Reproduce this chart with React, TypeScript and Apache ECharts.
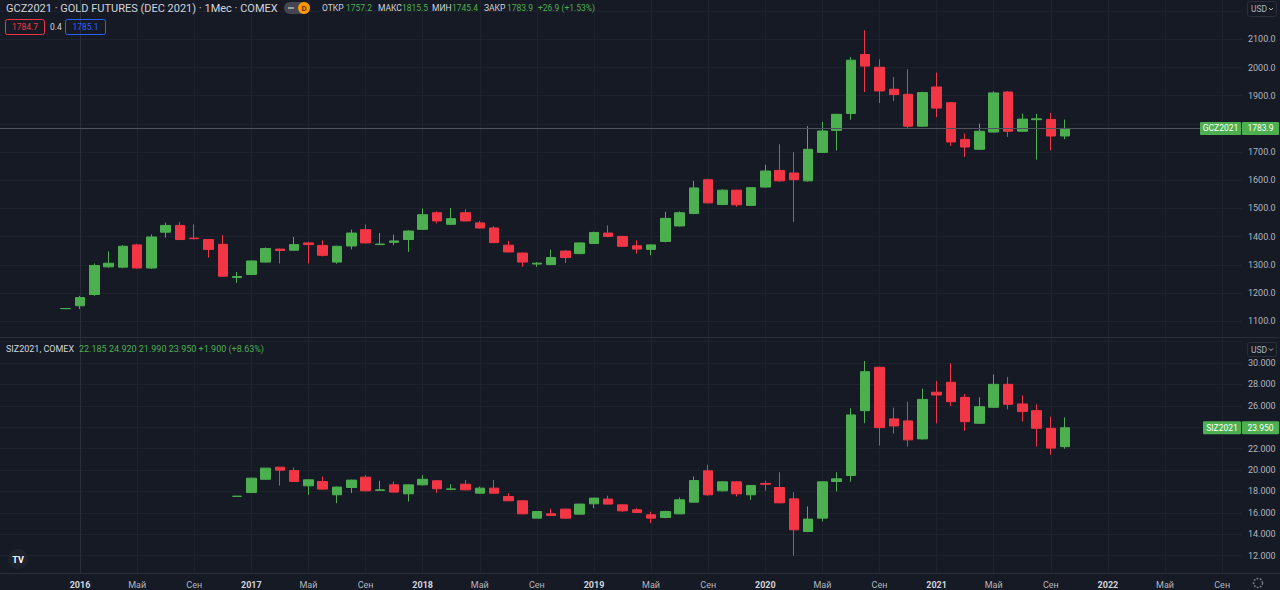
import React, { useEffect, useRef } from 'react';
import * as echarts from 'echarts';

// ---------- data ----------
const monthNames = ['Янв', 'Фев', 'Мар', 'Апр', 'Май', 'Июн', 'Июл', 'Авг', 'Сен', 'Окт', 'Ноя', 'Дек'];
const firstYear = 2016; // month index 0 = Jan 2016
const tickMonths = [0, 4, 8, 12, 16, 20, 24, 28, 32, 36, 40, 44, 48, 52, 56, 60, 64, 68, 72, 76, 80];

// Gold futures (DEC 2021), monthly, from Dec 2015: [open, high, low, close]
const goldStart = -1;
const goldOHLC: number[][] = [
  [1145, 1146, 1144, 1145],
  [1155, 1190, 1143, 1184], [1195, 1305, 1190, 1298], [1293, 1348, 1290, 1306], [1292, 1370, 1288, 1366],
  [1371, 1375, 1287, 1289], [1289, 1408, 1286, 1399], [1416, 1450, 1397, 1440], [1440, 1452, 1388, 1390],
  [1395, 1444, 1390, 1393], [1390, 1392, 1326, 1355], [1373, 1405, 1258, 1260], [1255, 1275, 1236, 1259],
  [1266, 1316, 1264, 1314], [1310, 1362, 1308, 1358], [1356, 1358, 1305, 1351], [1352, 1399, 1350, 1372],
  [1378, 1380, 1305, 1372], [1369, 1387, 1330, 1334], [1310, 1368, 1304, 1366], [1367, 1425, 1355, 1413],
  [1425, 1443, 1376, 1378], [1372, 1413, 1370, 1374], [1380, 1407, 1370, 1385], [1390, 1423, 1346, 1420],
  [1426, 1500, 1424, 1478], [1485, 1490, 1447, 1456], [1444, 1502, 1442, 1464], [1485, 1497, 1454, 1456],
  [1449, 1456, 1429, 1431], [1431, 1437, 1377, 1379], [1370, 1385, 1344, 1346], [1342, 1344, 1293, 1310],
  [1303, 1310, 1293, 1306], [1301, 1354, 1300, 1326], [1349, 1352, 1307, 1326], [1340, 1380, 1338, 1378],
  [1376, 1418, 1374, 1415], [1413, 1440, 1398, 1401], [1401, 1403, 1364, 1366], [1368, 1387, 1340, 1356],
  [1355, 1373, 1334, 1371], [1383, 1488, 1380, 1465], [1438, 1490, 1436, 1485], [1482, 1598, 1480, 1573],
  [1602, 1605, 1518, 1520], [1514, 1568, 1512, 1565], [1565, 1567, 1506, 1513], [1511, 1576, 1509, 1574],
  [1576, 1655, 1574, 1633], [1635, 1728, 1595, 1598], [1626, 1700, 1452, 1602], [1598, 1792, 1595, 1710],
  [1699, 1807, 1697, 1775], [1777, 1836, 1706, 1834], [1837, 2037, 1815, 2026], [2046, 2132, 1913, 2005],
  [2001, 2029, 1874, 1917], [1923, 1966, 1881, 1904], [1905, 1994, 1783, 1792], [1792, 1914, 1790, 1911],
  [1931, 1982, 1824, 1856], [1875, 1878, 1722, 1736], [1745, 1766, 1683, 1718], [1710, 1801, 1708, 1774],
  [1771, 1916, 1769, 1910], [1913, 1917, 1754, 1774], [1774, 1836, 1772, 1817], [1815, 1836, 1673, 1818],
  [1816, 1839, 1706, 1757], [1757.2, 1815.5, 1745.4, 1783.9],
];

// Silver futures (DEC 2021), monthly, from Dec 2016: [open, high, low, close]
const silverStart = 11;
const silverOHLC: number[][] = [
  [17.55, 17.56, 17.54, 17.55],
  [17.9, 19.3, 17.85, 19.24], [19.14, 20.2, 19.1, 20.18], [20.27, 20.3, 18.55, 19.99], [19.95, 20.24, 18.9, 18.93],
  [18.53, 19.12, 17.69, 19.09], [18.93, 19.4, 18.2, 18.22], [17.69, 18.45, 16.91, 18.41], [18.37, 19.1, 17.85, 19.06],
  [19.34, 19.53, 18.0, 18.06], [18.1, 19.0, 18.05, 18.15], [18.62, 18.93, 17.9, 17.94], [17.78, 18.65, 17.06, 18.62],
  [18.62, 19.53, 18.55, 19.14], [19.0, 19.05, 17.85, 18.25], [18.2, 18.68, 18.12, 18.24], [18.68, 19.08, 18.1, 18.15],
  [17.84, 18.46, 17.8, 18.31], [18.31, 19.08, 17.8, 17.84], [17.53, 17.85, 17.1, 17.13], [17.13, 17.15, 15.88, 15.91],
  [15.51, 16.15, 15.5, 16.13], [15.91, 16.38, 15.72, 15.76], [16.35, 16.4, 15.45, 15.51], [15.88, 16.85, 15.85, 16.82],
  [16.85, 17.4, 16.44, 17.38], [17.29, 17.6, 16.8, 16.82], [16.75, 16.8, 16.1, 16.19], [16.29, 16.44, 16.0, 16.04],
  [15.82, 16.1, 15.04, 15.51], [15.57, 16.2, 15.5, 16.13], [15.91, 17.44, 15.88, 17.22], [17.0, 19.4, 16.95, 19.02],
  [19.93, 20.49, 17.6, 17.69], [18.06, 18.95, 18.0, 18.9], [18.9, 18.95, 17.53, 17.78], [17.69, 18.6, 17.22, 18.56],
  [18.75, 19.0, 18.06, 18.68], [18.37, 19.8, 16.9, 16.94], [17.31, 17.93, 12.0, 14.42], [14.26, 16.6, 14.2, 15.42],
  [15.51, 18.95, 15.2, 18.9], [18.93, 19.8, 18.0, 19.18], [19.49, 25.77, 18.9, 25.15], [25.55, 30.19, 24.37, 29.19],
  [29.6, 29.65, 22.29, 23.96], [24.78, 25.83, 23.4, 24.12], [24.59, 26.39, 22.2, 22.82], [22.91, 27.6, 22.85, 26.6],
  [27.27, 28.32, 24.37, 27.01], [28.2, 29.97, 26.0, 26.39], [26.79, 27.1, 23.66, 24.52], [24.37, 26.79, 24.3, 25.92],
  [25.86, 28.94, 25.8, 28.01], [28.01, 28.7, 25.67, 26.14], [26.17, 26.97, 24.53, 25.46], [25.55, 26.14, 22.19, 23.9],
  [23.9, 24.99, 21.43, 22.05], [22.185, 24.92, 21.99, 23.95],
];

// grid-line levels and the levels that carry a visible label
const goldTicks = [1100, 1200, 1300, 1400, 1500, 1600, 1700, 1800, 1900, 2000, 2100, 2200];
const goldLabels = [1100, 1200, 1300, 1400, 1500, 1600, 1700, 1900, 2000, 2100];
const silverTicks = [12, 14, 16, 18, 20, 22, 24, 26, 28, 30, 32];
const silverLabels = [12, 14, 16, 18, 20, 22, 26, 28, 30];

const goldSymbol = 'GCZ2021';
const goldTitle = 'GCZ2021 · GOLD FUTURES (DEC 2021) · 1Мес · COMEX';
const goldChange = '+26.9 (+1.53%)';
const goldBid = '1784.7';
const goldSpread = '0.4';
const goldAsk = '1785.1';
const silverSymbol = 'SIZ2021';
const silverTitle = 'SIZ2021, COMEX';
const silverChange = '+1.900 (+8.63%)';

// ---------- styling ----------
const BG = '#161A25';
const GRID = '#1E222D';
const BORDER = '#2A2E39';
const TEXT = '#B2B5BE';
const TITLE = '#D1D4DC';
const UP = '#4CAF50';
const DOWN = '#F23645';
const FONT = 'Roboto, "Noto Sans", sans-serif';

const PX_PER_MONTH = 14.277;
const X_ORIGIN = 80; // pixel of month 0
const PLOT_RIGHT = 1242;
const X_MIN = -X_ORIGIN / PX_PER_MONTH;
const X_MAX = (PLOT_RIGHT - X_ORIGIN) / PX_PER_MONTH;

const toCandles = (start: number, rows: number[][]) =>
  rows.map((r, i) => [start + i, r[0], r[3], r[2], r[1]]);

const monthLabel = (v: number) => {
  const m = Math.round(v);
  const mi = ((m % 12) + 12) % 12;
  if (mi === 0) return `{y|${firstYear + Math.floor(m / 12)}}`;
  return monthNames[mi];
};

const candleStyle = {
  color: UP,
  color0: DOWN,
  borderColor: UP,
  borderColor0: DOWN,
  borderWidth: 1,
};

const yAxisBase = (gridIndex: number, min: number, max: number, ticks: number[], labels: number[], digits: number) => ({
  type: 'value',
  gridIndex,
  position: 'right',
  min,
  max,
  axisLine: { show: true, lineStyle: { color: BORDER } },
  axisTick: { show: false, customValues: ticks },
  axisLabel: {
    customValues: labels,
    formatter: (v: number) => v.toFixed(digits),
    color: TEXT,
    fontSize: 9,
    fontFamily: FONT,
    margin: 6,
  },
  splitLine: { show: true, lineStyle: { color: GRID, width: 1 } },
});

const xAxisBase = (gridIndex: number, showLabels: boolean) => ({
  type: 'value',
  gridIndex,
  min: X_MIN,
  max: X_MAX,
  axisLine: { show: false },
  axisTick: { show: false, customValues: tickMonths },
  axisLabel: {
    show: showLabels,
    customValues: tickMonths,
    formatter: monthLabel,
    color: TEXT,
    fontSize: 9,
    fontFamily: FONT,
    margin: 7,
    rich: { y: { fontWeight: 'bold', color: TITLE, fontSize: 9, fontFamily: FONT } },
  },
  splitLine: { show: true, lineStyle: { color: GRID, width: 1 } },
});

const option: any = {
  animation: false,
  backgroundColor: BG,
  textStyle: { fontFamily: FONT },
  grid: [
    { left: 0, right: 1280 - PLOT_RIGHT, top: 0, height: 337 },
    { left: 0, right: 1280 - PLOT_RIGHT, top: 338, height: 235 },
  ],
  xAxis: [xAxisBase(0, false), xAxisBase(1, true)],
  yAxis: [
    yAxisBase(0, 1044.3, 2239.4, goldTicks, goldLabels, 1),
    yAxisBase(1, 10.385, 32.335, silverTicks, silverLabels, 3),
  ],
  series: [
    {
      type: 'candlestick',
      name: goldSymbol,
      xAxisIndex: 0,
      yAxisIndex: 0,
      barWidth: 10,
      itemStyle: candleStyle,
      data: toCandles(goldStart, goldOHLC),
      markLine: {
        silent: true,
        symbol: ['none', 'none'],
        label: { show: false },
        lineStyle: { color: '#50535E', type: 'solid', width: 1 },
        data: [{ yAxis: goldOHLC[goldOHLC.length - 1][3] }],
      },
    },
    {
      type: 'candlestick',
      name: silverSymbol,
      xAxisIndex: 1,
      yAxisIndex: 1,
      barWidth: 10,
      itemStyle: candleStyle,
      data: toCandles(silverStart, silverOHLC),
    },
  ],
};

const txt = (x: number, y: number, text: string, fill: string, size: number, extra: any = {}) => ({
  type: 'text',
  x,
  y,
  z: 100,
  silent: true,
  style: {
    text,
    fill,
    fontSize: size,
    fontFamily: FONT,
    align: 'left',
    verticalAlign: 'middle',
    ...extra,
  },
});

const box = (x: number, y: number, w: number, h: number, fill: string, stroke?: string, r = 2) => ({
  type: 'rect',
  z: 99,
  silent: true,
  shape: { x, y, width: w, height: h, r },
  style: stroke ? { fill: 'none', stroke, lineWidth: 1 } : { fill },
});

export default function App() {
  const ref = useRef<HTMLDivElement>(null);
  useEffect(() => {
    const el = ref.current!;
    const chart = echarts.init(el, null, { renderer: 'svg' });
    chart.setOption(option);

    const gLast = goldOHLC[goldOHLC.length - 1];
    const sLast = silverOHLC[silverOHLC.length - 1];
    const gy = (chart.convertToPixel({ seriesIndex: 0 }, [goldStart + goldOHLC.length - 1, gLast[3]]) as number[])[1];
    const sy = (chart.convertToPixel({ seriesIndex: 1 }, [silverStart + silverOHLC.length - 1, sLast[3]]) as number[])[1];

    const ohlcLabels = ['ОТКР', 'МАКС', 'МИН', 'ЗАКР'];
    const ohlcVals = [gLast[0], gLast[1], gLast[2], gLast[3]].map((v) => v.toFixed(1));
    const ohlcX = [322, 378, 432, 484];
    const ohlcValX = [346, 402, 452, 507];
    const silverValues = [sLast[0], sLast[1], sLast[2], sLast[3]].map((v) => v.toFixed(3)).join(' ') + ' ' + silverChange;

    const elements: any[] = [
      // pane separator and bottom axis line
      { type: 'line', z: 90, silent: true, shape: { x1: 0, y1: 337.5, x2: 1280, y2: 337.5 }, style: { stroke: BORDER, lineWidth: 1 } },
      { type: 'line', z: 90, silent: true, shape: { x1: 0, y1: 573.5, x2: 1280, y2: 573.5 }, style: { stroke: BORDER, lineWidth: 1 } },
      // title line
      txt(6, 8, goldTitle, TITLE, 11),
      { type: 'rect', z: 99, silent: true, shape: { x: 284, y: 2, width: 26, height: 12, r: 6 }, style: { fill: '#434651' } },
      { type: 'line', z: 100, silent: true, shape: { x1: 288, y1: 8, x2: 294, y2: 8 }, style: { stroke: '#D1D4DC', lineWidth: 1.2 } },
      { type: 'circle', z: 100, silent: true, shape: { cx: 304, cy: 8, r: 6 }, style: { fill: '#FF9800' } },
      txt(304, 8.5, 'D', '#5A3A00', 8, { align: 'center', fontWeight: 'bold' }),
      ...ohlcLabels.map((t, i) => txt(ohlcX[i], 8, t, TITLE, 8.5)),
      ...ohlcVals.map((t, i) => txt(ohlcValX[i], 8, t, UP, 8.5)),
      txt(538, 8, goldChange, UP, 8.5),
      // bid / ask
      box(5.5, 19.5, 39, 15, 'none', DOWN),
      txt(25, 27, goldBid, DOWN, 8.5, { align: 'center' }),
      txt(50, 27, goldSpread, TITLE, 8.5),
      box(65.5, 19.5, 40, 15, 'none', '#2962FF'),
      txt(85.5, 27, goldAsk, '#2962FF', 8.5, { align: 'center' }),
      // silver header
      txt(6, 349, silverTitle, TITLE, 9),
      txt(79, 349, silverValues, UP, 9),
      // USD buttons
      box(1247.5, 1.5, 29, 15, 'none', BORDER),
      txt(1251, 9, 'USD', TEXT, 8.5),
      { type: 'polyline', z: 100, silent: true, shape: { points: [[1269, 8], [1271, 10], [1273, 8]] }, style: { stroke: TEXT, fill: 'none', lineWidth: 1 } },
      box(1247.5, 342.5, 29, 14, 'none', BORDER),
      txt(1251, 349.5, 'USD', TEXT, 8.5),
      { type: 'polyline', z: 100, silent: true, shape: { points: [[1269, 348.5], [1271, 350.5], [1273, 348.5]] }, style: { stroke: TEXT, fill: 'none', lineWidth: 1 } },
      // last price boxes
      box(1200, gy - 6.5, 41, 13, UP, undefined, 1),
      txt(1220.5, gy, goldSymbol, '#FFFFFF', 8.5, { align: 'center' }),
      box(1242, gy - 6.5, 37, 13, UP, undefined, 1),
      txt(1260.5, gy, gLast[3].toFixed(1), '#FFFFFF', 8.5, { align: 'center' }),
      box(1203, sy - 6.5, 38, 13, UP, undefined, 1),
      txt(1222, sy, silverSymbol, '#FFFFFF', 8.5, { align: 'center' }),
      box(1242, sy - 6.5, 37, 13, UP, undefined, 1),
      txt(1260.5, sy, sLast[3].toFixed(3), '#FFFFFF', 8.5, { align: 'center' }),
      // TradingView logo
      { type: 'circle', z: 99, silent: true, shape: { cx: 18, cy: 559, r: 10 }, style: { fill: '#1E222D' } },
      txt(18, 559.5, 'TV', '#FFFFFF', 9, { align: 'center', fontWeight: 'bold' }),
      // settings gear
      { type: 'circle', z: 99, silent: true, shape: { cx: 1258, cy: 583, r: 4.5 }, style: { fill: 'none', stroke: '#787B86', lineWidth: 1.6, lineDash: [1.8, 1.4] } },
    ];

    chart.setOption({ graphic: { elements } });
    return () => chart.dispose();
  }, []);

  return <div ref={ref} style={{ position: 'fixed', left: 0, top: 0, width: 1280, height: 590 }} />;
}
